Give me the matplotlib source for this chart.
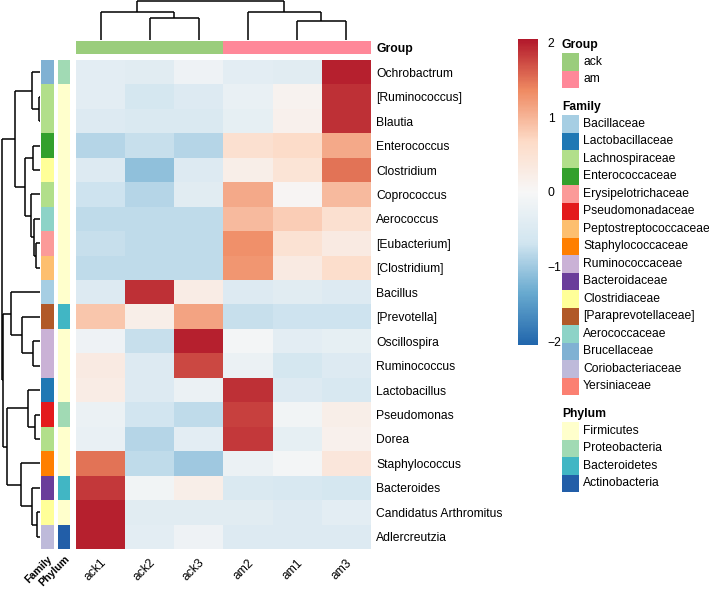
import matplotlib
matplotlib.use("Agg")
import matplotlib.pyplot as plt
import numpy as np
from matplotlib.colors import LinearSegmentedColormap, to_rgba, Normalize
from matplotlib.cm import ScalarMappable
from matplotlib.patches import Rectangle

plt.rcParams['font.family'] = ['Liberation Sans', 'DejaVu Sans']

# ---- data ----
samples = ["ack1", "ack2", "ack3", "am2", "am1", "am3"]
sample_group = ["ack", "ack", "ack", "am", "am", "am"]

genera = ["Ochrobactrum", "[Ruminococcus]", "Blautia", "Enterococcus",
          "Clostridium", "Coprococcus", "Aerococcus", "[Eubacterium]",
          "[Clostridium]", "Bacillus", "[Prevotella]", "Oscillospira",
          "Ruminococcus", "Lactobacillus", "Pseudomonas", "Dorea",
          "Staphylococcus", "Bacteroides", "Candidatus Arthromitus",
          "Adlercreutzia"]

# z-scores, columns in the order of `samples`
zscores = [
    [-0.35, -0.40, -0.15, -0.35, -0.40, 2.00],
    [-0.35, -0.60, -0.45, -0.25, 0.10, 1.90],
    [-0.45, -0.50, -0.50, -0.30, 0.15, 1.90],
    [-0.85, -0.75, -0.85, 0.55, 0.65, 1.10],
    [-0.45, -1.10, -0.45, 0.20, 0.45, 1.50],
    [-0.70, -0.85, -0.40, 1.10, 0.05, 0.95],
    [-0.80, -0.80, -0.80, 0.95, 0.80, 0.55],
    [-0.75, -0.80, -0.80, 1.30, 0.50, 0.30],
    [-0.80, -0.80, -0.80, 1.25, 0.30, 0.60],
    [-0.45, 1.90, 0.25, -0.45, -0.40, -0.45],
    [0.85, 0.20, 1.15, -0.75, -0.70, -0.70],
    [-0.15, -0.75, 2.00, -0.05, -0.35, -0.30],
    [0.30, -0.45, 1.75, -0.20, -0.60, -0.45],
    [0.25, -0.45, -0.20, 1.90, -0.45, -0.55],
    [-0.20, -0.65, -0.80, 1.80, -0.10, 0.20],
    [-0.25, -0.85, -0.35, 1.85, -0.30, 0.15],
    [1.50, -0.80, -1.00, -0.20, -0.05, 0.40],
    [1.85, -0.10, 0.20, -0.50, -0.55, -0.60],
    [2.00, -0.40, -0.40, -0.40, -0.45, -0.35],
    [2.00, -0.35, -0.15, -0.45, -0.45, -0.45],
]

row_family = ["Brucellaceae", "Lachnospiraceae", "Lachnospiraceae",
              "Enterococcaceae", "Clostridiaceae", "Lachnospiraceae",
              "Aerococcaceae", "Erysipelotrichaceae", "Peptostreptococcaceae",
              "Bacillaceae", "[Paraprevotellaceae]", "Ruminococcaceae",
              "Ruminococcaceae", "Lactobacillaceae", "Pseudomonadaceae",
              "Lachnospiraceae", "Staphylococcaceae", "Bacteroidaceae",
              "Clostridiaceae", "Coriobacteriaceae"]
row_phylum = ["Proteobacteria", "Firmicutes", "Firmicutes", "Firmicutes",
              "Firmicutes", "Firmicutes", "Firmicutes", "Firmicutes",
              "Firmicutes", "Firmicutes", "Bacteroidetes", "Firmicutes",
              "Firmicutes", "Firmicutes", "Proteobacteria", "Firmicutes",
              "Firmicutes", "Bacteroidetes", "Firmicutes", "Actinobacteria"]

group_names = ["ack", "am"]
group_colors = ["#9ACD7C", "#FF8899"]
family_names = ["Bacillaceae", "Lactobacillaceae", "Lachnospiraceae",
                "Enterococcaceae", "Erysipelotrichaceae", "Pseudomonadaceae",
                "Peptostreptococcaceae", "Staphylococcaceae", "Ruminococcaceae",
                "Bacteroidaceae", "Clostridiaceae", "[Paraprevotellaceae]",
                "Aerococcaceae", "Brucellaceae", "Coriobacteriaceae",
                "Yersiniaceae"]
family_colors = ["#A6CEE3", "#1F78B4", "#B2DF8A", "#33A02C", "#FB9A99",
                 "#E31A1C", "#FDBF6F", "#FF7F00", "#CAB2D6", "#6A3D9A",
                 "#FFFF99", "#B15928", "#8DD3C7", "#80B1D3", "#BEBADA",
                 "#FB8072"]
phylum_names = ["Firmicutes", "Proteobacteria", "Bacteroidetes", "Actinobacteria"]
phylum_colors = ["#FFFFCC", "#A1DAB4", "#41B6C4", "#225EA8"]

# dendrograms: (left, right, height, node name)
col_merges = [("ack2", "ack3", 21.7, "c1"), ("ack1", "c1", 28.3, "c2"),
              ("am1", "am3", 19.3, "c3"), ("am2", "c3", 28.3, "c4"),
              ("c2", "c4", 39.0, "c5")]
row_merges = [("[Ruminococcus]", "Blautia", 1.0, "r1"),
              ("Ochrobactrum", "r1", 8.0, "r2"),
              ("Enterococcus", "Clostridium", 7.0, "r3"),
              ("[Eubacterium]", "[Clostridium]", 4.5, "r4"),
              ("Aerococcus", "r4", 6.0, "r5"),
              ("Coprococcus", "r5", 9.3, "r6"),
              ("r3", "r6", 15.0, "r7"),
              ("r2", "r7", 25.0, "r8"),
              ("Oscillospira", "Ruminococcus", 7.0, "r9"),
              ("[Prevotella]", "r9", 18.0, "r10"),
              ("Bacillus", "r10", 29.3, "r11"),
              ("Pseudomonas", "Dorea", 5.0, "r12"),
              ("Lactobacillus", "r12", 12.0, "r13"),
              ("Candidatus Arthromitus", "Adlercreutzia", 3.0, "r14"),
              ("Bacteroides", "r14", 8.0, "r15"),
              ("Staphylococcus", "r15", 19.0, "r16"),
              ("r13", "r16", 33.3, "r17"),
              ("r11", "r17", 36.7, "r18"),
              ("r8", "r18", 38.5, "r19")]

W, H = 709, 592
FS = 8.7
fig = plt.figure(figsize=(W / 100, H / 100), dpi=100)


def px_axes(x0, y0, x1, y1):
    # axes from pixel box (top-left origin)
    return fig.add_axes([x0 / W, 1 - y1 / H, (x1 - x0) / W, (y1 - y0) / H])


def dendro_segments(merges, leaves):
    pos = {name: i for i, name in enumerate(leaves)}
    hgt = {name: 0.0 for name in leaves}
    segs = []
    for left, right, h, name in merges:
        segs.append(((pos[left], hgt[left]), (pos[left], h)))
        segs.append(((pos[right], hgt[right]), (pos[right], h)))
        segs.append(((pos[left], h), (pos[right], h)))
        pos[name] = (pos[left] + pos[right]) / 2
        hgt[name] = h
    return segs


cmap = LinearSegmentedColormap.from_list(
    "rdbu7", ["#2166AC", "#67A9CF", "#D1E5F0", "#F7F7F7", "#FDDBC7", "#EF8A62", "#B2182B"])
norm = Normalize(vmin=-2.05, vmax=2.05)

# heatmap
ax = px_axes(76, 60, 370, 549)
ax.imshow(np.array(zscores), cmap=cmap, norm=norm, aspect='auto', interpolation='nearest')
ax.set_yticks(np.arange(len(genera)))
ax.set_yticklabels(genera, fontsize=FS)
ax.yaxis.tick_right()
ax.set_xticks(np.arange(len(samples)))
ax.set_xticklabels(samples, fontsize=FS, rotation=45, ha='right', va='top',
                   rotation_mode='anchor')
ax.tick_params(length=0, pad=5.5)
ax.tick_params(axis='y', pad=4.5)
for s in ax.spines.values():
    s.set_visible(False)

# group annotation bar
axg = px_axes(76, 41, 370, 54)
gcol = [to_rgba(group_colors[group_names.index(g)]) for g in sample_group]
axg.imshow(np.array([gcol]), aspect='auto', interpolation='nearest')
axg.set_xticks([])
axg.set_yticks([0])
axg.set_yticklabels(["Group"], fontsize=FS, fontweight='bold')
axg.yaxis.tick_right()
axg.tick_params(length=0, pad=4.5)
for s in axg.spines.values():
    s.set_visible(False)

# row annotation columns
for (x0, x1, vals, names, cols, label) in [
        (41, 54, row_family, family_names, family_colors, "Family"),
        (58, 70, row_phylum, phylum_names, phylum_colors, "Phylum")]:
    axa = px_axes(x0, 60, x1, 549)
    rgba = [[to_rgba(cols[names.index(v)])] for v in vals]
    axa.imshow(np.array(rgba), aspect='auto', interpolation='nearest')
    axa.set_yticks([])
    axa.set_xticks([0])
    axa.set_xticklabels([label], fontsize=FS - 1.0, fontweight='bold', rotation=45,
                        ha='right', va='top', rotation_mode='anchor')
    axa.tick_params(length=0, pad=3.5)
    for s in axa.spines.values():
        s.set_visible(False)

# column dendrogram
axc = px_axes(76, 0, 370, 40)
for (x0, y0), (x1, y1) in dendro_segments(col_merges, samples):
    axc.plot([x0, x1], [y0, y1], color='black', lw=1.1, clip_on=False,
             solid_capstyle='butt')
axc.set_xlim(-0.5, len(samples) - 0.5)
axc.set_ylim(0, 40)
axc.axis('off')

# row dendrogram
axr = px_axes(0, 60, 40, 549)
for (y0, h0), (y1, h1) in dendro_segments(row_merges, genera):
    axr.plot([h0, h1], [y0, y1], color='black', lw=1.1, clip_on=False,
             solid_capstyle='butt')
axr.set_ylim(len(genera) - 0.5, -0.5)
axr.set_xlim(40, 0)
axr.axis('off')

# colour bar
axcb = px_axes(518, 39, 538, 345)
cb = fig.colorbar(ScalarMappable(norm=norm, cmap=cmap), cax=axcb, ticks=[-2, -1, 0, 1, 2])
cb.outline.set_visible(False)
cb.ax.set_yticklabels(["\u22122", "\u22121", "0", "1", "2"], fontsize=FS)
cb.ax.tick_params(length=0, pad=7)

# legends
axl = px_axes(555, 0, 709, 592)
axl.set_xlim(555, 709)
axl.set_ylim(592, 0)
axl.axis('off')
y = 53
for title, names, cols in [("Group", group_names, group_colors),
                           ("Family", family_names, family_colors),
                           ("Phylum", phylum_names, phylum_colors)]:
    axl.text(562, y - 8, title, fontsize=FS, fontweight='bold', va='center', ha='left')
    for n, c in zip(names, cols):
        axl.add_patch(Rectangle((562, y), 17, 17.5, facecolor=c, edgecolor='none'))
        axl.text(583, y + 8.75, n, fontsize=FS, va='center', ha='left')
        y += 17.5
    y += 27

fig.savefig("out.png", dpi=100)
